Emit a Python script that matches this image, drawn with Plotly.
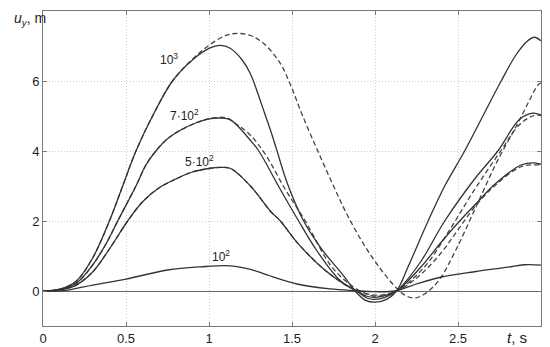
import plotly.graph_objects as go

# ---- data ----
t_s1000 = [0, 0.1, 0.2, 0.3, 0.4, 0.48, 0.56, 0.66, 0.78, 0.9, 1.0, 1.07, 1.13, 1.2, 1.25, 1.29, 1.33, 1.37, 1.41, 1.47, 1.57, 1.68, 1.81, 1.88, 1.94, 2.0, 2.07, 2.13, 2.2, 2.32, 2.42, 2.54, 2.65, 2.76, 2.85, 2.92, 2.96, 3.0]
u_s1000 = [0, 0.05, 0.28, 0.95, 2.0, 3.0, 4.0, 5.0, 6.0, 6.6, 6.93, 7.02, 6.93, 6.6, 6.2, 5.7, 5.15, 4.6, 4.0, 3.1, 2.0, 1.19, 0.44, 0.0, -0.26, -0.32, -0.24, 0.0, 0.7, 2.0, 3.0, 4.0, 5.0, 6.0, 6.75, 7.15, 7.25, 7.15]

t_d1000 = [0, 0.1, 0.2, 0.3, 0.4, 0.48, 0.56, 0.66, 0.78, 0.9, 1.0, 1.1, 1.17, 1.25, 1.33, 1.43, 1.49, 1.56, 1.66, 1.75, 1.83, 1.93, 2.03, 2.13, 2.18, 2.24, 2.31, 2.39, 2.49, 2.61, 2.73, 2.85, 2.92, 2.98, 3.0]
u_d1000 = [0, 0.05, 0.28, 0.95, 2.0, 3.0, 4.0, 5.0, 6.0, 6.62, 7.02, 7.3, 7.36, 7.3, 7.07, 6.5, 5.9, 5.05, 3.95, 3.0, 2.2, 1.35, 0.65, 0.08, -0.12, -0.2, -0.05, 0.34, 1.2, 2.42, 3.65, 4.7, 5.35, 5.88, 5.95]

t_s700 = [0, 0.1, 0.2, 0.3, 0.38, 0.45, 0.56, 0.62, 0.68, 0.75, 0.83, 0.92, 1.0, 1.07, 1.13, 1.25, 1.3, 1.43, 1.54, 1.65, 1.79, 1.89, 1.95, 2.0, 2.06, 2.13, 2.27, 2.42, 2.6, 2.74, 2.87, 2.95, 3.0]
u_s700 = [0, 0.04, 0.22, 0.75, 1.35, 2.0, 3.0, 3.6, 4.0, 4.35, 4.6, 4.8, 4.92, 4.94, 4.89, 4.3, 4.0, 2.9, 2.0, 1.15, 0.3, 0.0, -0.2, -0.24, -0.18, 0.0, 0.8, 2.0, 3.2, 4.0, 4.9, 5.08, 5.03]

t_d700 = [0, 0.1, 0.2, 0.3, 0.38, 0.45, 0.56, 0.62, 0.68, 0.75, 0.83, 0.92, 1.0, 1.1, 1.17, 1.25, 1.34, 1.46, 1.58, 1.73, 1.82, 1.9, 2.0, 2.13, 2.3, 2.45, 2.6, 2.75, 2.87, 2.95, 3.0]
u_d700 = [0, 0.04, 0.22, 0.75, 1.35, 2.0, 3.0, 3.6, 4.0, 4.35, 4.6, 4.8, 4.92, 4.95, 4.75, 4.45, 3.9, 2.9, 2.0, 0.75, 0.3, 0.03, -0.15, 0.0, 0.7, 1.75, 2.9, 3.95, 4.75, 5.0, 5.02]

t_s500 = [0, 0.1, 0.2, 0.3, 0.4, 0.51, 0.6, 0.7, 0.8, 0.9, 1.0, 1.07, 1.13, 1.25, 1.37, 1.43, 1.53, 1.69, 1.83, 1.89, 1.95, 2.0, 2.06, 2.13, 2.27, 2.4, 2.51, 2.62, 2.72, 2.88, 2.96, 3.0]
u_s500 = [0, 0.03, 0.17, 0.55, 1.2, 2.0, 2.55, 2.95, 3.2, 3.4, 3.5, 3.53, 3.5, 3.0, 2.28, 2.0, 1.39, 0.63, 0.15, 0.0, -0.15, -0.18, -0.13, 0.0, 0.65, 1.4, 2.0, 2.55, 3.04, 3.6, 3.66, 3.62]

t_d500 = [0, 0.1, 0.2, 0.3, 0.4, 0.51, 0.6, 0.7, 0.8, 0.9, 1.0, 1.07, 1.13, 1.25, 1.37, 1.43, 1.53, 1.69, 1.83, 1.9, 2.0, 2.13, 2.27, 2.4, 2.5, 2.6, 2.72, 2.88, 3.0]
u_d500 = [0, 0.03, 0.17, 0.55, 1.2, 2.0, 2.55, 2.95, 3.2, 3.4, 3.5, 3.53, 3.5, 3.0, 2.28, 2.0, 1.39, 0.63, 0.15, 0.0, -0.12, 0.0, 0.45, 1.1, 1.75, 2.4, 3.0, 3.55, 3.6]

t_s100 = [0, 0.14, 0.3, 0.5, 0.75, 0.95, 1.13, 1.25, 1.35, 1.53, 1.73, 1.88, 2.0, 2.12, 2.25, 2.4, 2.6, 2.8, 2.9, 3.0]
u_s100 = [0, 0.02, 0.17, 0.34, 0.6, 0.69, 0.72, 0.62, 0.46, 0.2, 0.06, 0.01, -0.02, 0.0, 0.2, 0.4, 0.55, 0.68, 0.75, 0.74]

label_text = ["10<sup>3</sup>", "7·10<sup>2</sup>", "5·10<sup>2</sup>", "10<sup>2</sup>"]
label_t = [0.76, 0.85, 0.94, 1.07]
label_u = [6.62, 5.03, 3.72, 0.99]

x_ticks = [0, 0.5, 1, 1.5, 2, 2.5]
x_tick_text = ["0", "0.5", "1", "1.5", "2", "2.5"]
y_ticks = [0, 2, 4, 6]

# ---- figure ----
fig = go.Figure()
solid = dict(color="#333333", width=1.3, shape="spline", smoothing=1.0)
dashed = dict(color="#444444", width=1.3, dash="5px,3px", shape="spline", smoothing=1.0)

for t, u in [(t_d1000, u_d1000), (t_d700, u_d700), (t_d500, u_d500)]:
    fig.add_trace(go.Scatter(x=t, y=u, mode="lines", line=dashed, hoverinfo="skip"))
for t, u in [(t_s1000, u_s1000), (t_s700, u_s700), (t_s500, u_s500), (t_s100, u_s100)]:
    fig.add_trace(go.Scatter(x=t, y=u, mode="lines", line=solid, hoverinfo="skip"))

for txt, tx, uy in zip(label_text, label_t, label_u):
    fig.add_annotation(x=tx, y=uy, text=txt, showarrow=False,
                       font=dict(family="Liberation Sans, Arial", size=12, color="#222"))

fig.add_annotation(xref="paper", yref="paper", x=0.975, y=-0.035, yanchor="middle",
                   text="<i>t</i>, s", showarrow=False,
                   font=dict(family="Liberation Sans, Arial", size=15, color="#222"))
fig.add_annotation(xref="paper", yref="paper", x=-0.062, y=0.975, xanchor="left", yanchor="middle",
                   text="<i>u</i><sub><i>y</i></sub>, m", showarrow=False,
                   font=dict(family="Liberation Sans, Arial", size=14, color="#222"))

axis_common = dict(showline=True, mirror="ticks", linecolor="#777", linewidth=1,
                   ticks="inside", ticklen=4, tickcolor="#777", automargin=False,
                   showgrid=True, gridcolor="#cccccc", griddash="1px,2px", gridwidth=1,
                   tickfont=dict(family="Liberation Sans, Arial", size=13, color="#222"))

fig.update_xaxes(range=[0, 3], tickvals=x_ticks, ticktext=x_tick_text,
                 zeroline=False, **axis_common)
fig.update_yaxes(range=[-1, 8], tickvals=y_ticks, zeroline=True, zerolinecolor="#666",
                 zerolinewidth=1, **axis_common)

# the page body adds an 8px offset, so the figure is 8px smaller and margins shifted
fig.update_layout(width=542, height=339, margin=dict(l=35, r=9, t=3, b=21, autoexpand=False),
                  paper_bgcolor="white", plot_bgcolor="white", showlegend=False)

fig.write_html("out.html")
